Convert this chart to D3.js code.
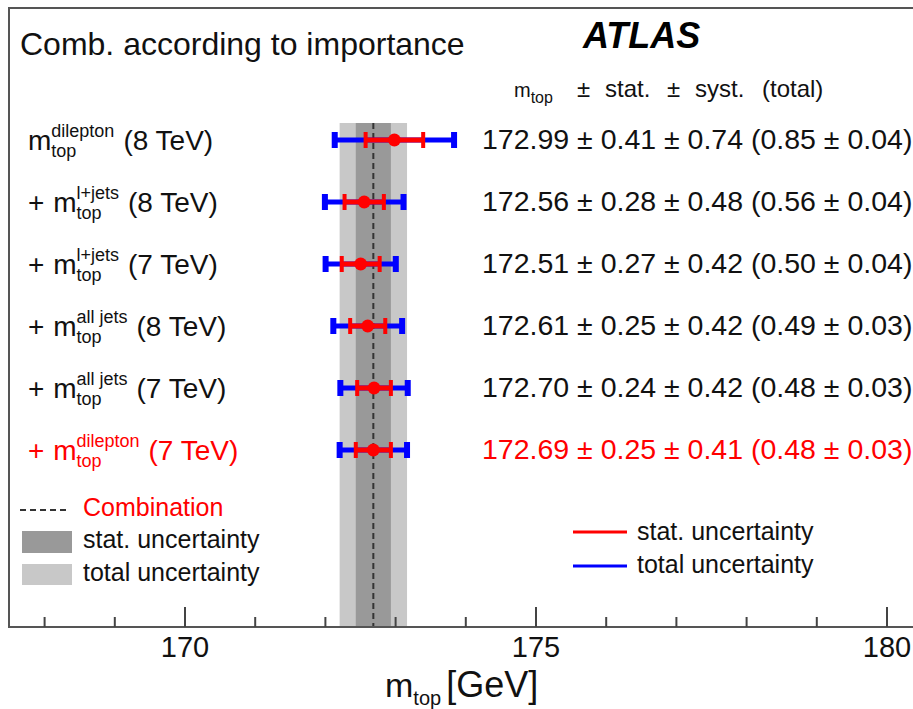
<!DOCTYPE html>
<html>
<head>
<meta charset="utf-8">
<script src="https://cdn.jsdelivr.net/npm/d3@7"></script>
<style>
  html, body { margin: 0; padding: 0; background: #fff; }
  svg { display: block; }
  text { font-family: "Liberation Sans", Arial, Helvetica, sans-serif; }
</style>
</head>
<body>
<svg id="chart" width="913" height="709"></svg>
<script>
// Measurements, added one at a time in order of importance
const channels  = ["dilepton", "l+jets", "l+jets", "all jets", "all jets", "dilepton"];
const energies  = ["8 TeV", "8 TeV", "7 TeV", "8 TeV", "7 TeV", "7 TeV"];
const mtop      = [172.99, 172.56, 172.51, 172.61, 172.70, 172.69];
const statUnc   = [0.41, 0.28, 0.27, 0.25, 0.24, 0.25];
const systUnc   = [0.74, 0.48, 0.42, 0.42, 0.42, 0.41];
const totalUnc  = [0.85, 0.56, 0.50, 0.49, 0.48, 0.48];
const totalUncErr = [0.04, 0.04, 0.04, 0.03, 0.03, 0.03];

// Final combination (last step)
const combValue = 172.69;
const combStat  = 0.25;
const combTotal = 0.48;

// Axis
const xDomain     = [167.5, 181];
const majorTicks  = [170, 175, 180];
const minorTicks  = [168, 169, 171, 172, 173, 174, 176, 177, 178, 179];

const svg = d3.select("#chart");
const W = 913, H = 709;
const frame = { left: 9, top: 8, bottom: 627 };
const FONT = '"Liberation Sans", Arial, Helvetica, sans-serif';

const x = d3.scaleLinear().domain(xDomain).range([frame.left, frame.left + 70.2 * (xDomain[1] - xDomain[0])]);
const rows = d3.range(mtop.length);
const y = d3.scalePoint().domain(rows).range([140, 450]);
const fmt = d3.format(".2f");

svg.append("rect").attr("width", W).attr("height", H).attr("fill", "#fff");

// Combination bands
const bandTop = 123;
svg.append("rect")
  .attr("x", x(combValue - combTotal)).attr("y", bandTop)
  .attr("width", x(combValue + combTotal) - x(combValue - combTotal))
  .attr("height", frame.bottom - bandTop)
  .attr("fill", "#c8c8c8");
svg.append("rect")
  .attr("x", x(combValue - combStat)).attr("y", bandTop)
  .attr("width", x(combValue + combStat) - x(combValue - combStat))
  .attr("height", frame.bottom - bandTop)
  .attr("fill", "#999999");
svg.append("line")
  .attr("x1", x(combValue)).attr("x2", x(combValue))
  .attr("y1", bandTop).attr("y2", frame.bottom)
  .attr("stroke", "#333").attr("stroke-width", 2).attr("stroke-dasharray", "6,4");

// Frame
const right = x(xDomain[1]);
svg.append("path")
  .attr("d", `M${right},${frame.top}H${frame.left}V${frame.bottom}H${right}`)
  .attr("fill", "none").attr("stroke", "#555").attr("stroke-width", 2);

// Axis ticks pointing into the frame
const axisMajor = d3.axisBottom(x).tickValues(majorTicks).tickSize(-20).tickPadding(9).tickFormat(d3.format("d"));
const gMaj = svg.append("g").attr("transform", `translate(0,${frame.bottom})`).call(axisMajor);
gMaj.select(".domain").remove();
gMaj.selectAll(".tick line").attr("stroke", "#444").attr("stroke-width", 2);
gMaj.selectAll(".tick text").attr("font-size", 29).attr("font-family", FONT).attr("fill", "#111");

const axisMinor = d3.axisBottom(x).tickValues(minorTicks).tickSize(-10).tickFormat("");
const gMin = svg.append("g").attr("transform", `translate(0,${frame.bottom})`).call(axisMinor);
gMin.select(".domain").remove();
gMin.selectAll(".tick line").attr("stroke", "#444").attr("stroke-width", 2);

// Axis title m_top [GeV]
const axT = svg.append("g").attr("fill", "#111");
const mAx = axT.append("text").attr("x", 385).attr("y", 697).attr("font-size", 34).text("m");
const mAxW = mAx.node().getComputedTextLength();
const subAx = axT.append("text").attr("x", 385 + mAxW).attr("y", 705).attr("font-size", 20).text("top");
const subAxW = subAx.node().getComputedTextLength();
axT.append("text").attr("x", 385 + mAxW + subAxW + 5).attr("y", 697).attr("font-size", 36).text("[GeV]");

// Error bars
const bars = svg.append("g").selectAll("g").data(rows).join("g")
  .attr("transform", i => `translate(0,${y(i)})`);

function errorBar(sel, lo, hi, color, capW) {
  sel.append("line")
    .attr("x1", i => x(mtop[i] - lo(i))).attr("x2", i => x(mtop[i] + hi(i)))
    .attr("y1", 0).attr("y2", 0)
    .attr("stroke", color).attr("stroke-width", 5);
  sel.append("rect")
    .attr("x", i => x(mtop[i] - lo(i)) - capW / 2).attr("y", -8)
    .attr("width", capW).attr("height", 16).attr("fill", color);
  sel.append("rect")
    .attr("x", i => x(mtop[i] + hi(i)) - capW / 2).attr("y", -8)
    .attr("width", capW).attr("height", 16).attr("fill", color);
}
errorBar(bars, i => totalUnc[i], i => totalUnc[i], "#0000ff", 6);
errorBar(bars, i => statUnc[i], i => statUnc[i], "#ff0000", 4);
bars.append("circle").attr("cx", i => x(mtop[i])).attr("cy", 0).attr("r", 6.5).attr("fill", "#ff0000");

// Row labels on the left
const rowColor = i => (i === rows.length - 1 ? "#ff0000" : "#111");
rows.forEach(i => {
  const g = svg.append("g").attr("fill", rowColor(i));
  const base = y(i) + 10;
  let cx = 28;
  if (i > 0) {
    const p = g.append("text").attr("x", cx).attr("y", base).attr("font-size", 28)
      .attr("xml:space", "preserve").text("+ ");
    cx += p.node().getComputedTextLength() + 1;
  }
  const m = g.append("text").attr("x", cx).attr("y", base).attr("font-size", 28).text("m");
  cx += m.node().getComputedTextLength();
  const sup = g.append("text").attr("x", cx).attr("y", base - 13).attr("font-size", 18).text(channels[i]);
  const sub = g.append("text").attr("x", cx).attr("y", base + 7).attr("font-size", 18).text("top");
  cx += Math.max(sup.node().getComputedTextLength(), sub.node().getComputedTextLength()) + 9;
  g.append("text").attr("x", cx).attr("y", base).attr("font-size", 28).text(`(${energies[i]})`);
});

// Values on the right
svg.append("g").selectAll("text").data(rows).join("text")
  .attr("x", 482).attr("y", i => y(i) + 9)
  .attr("font-size", 28.5).attr("fill", rowColor)
  .attr("xml:space", "preserve")
  .text(i => `${fmt(mtop[i])} \u00b1 ${fmt(statUnc[i])} \u00b1 ${fmt(systUnc[i])} (${fmt(totalUnc[i])} \u00b1 ${fmt(totalUncErr[i])})`);

// Column header
const hd = svg.append("g").attr("fill", "#111");
const hm = hd.append("text").attr("x", 514).attr("y", 97).attr("font-size", 20).text("m");
hd.append("text").attr("x", 514 + hm.node().getComputedTextLength()).attr("y", 103).attr("font-size", 16).text("top");
hd.append("text").attr("x", 577).attr("y", 97).attr("font-size", 24).text("\u00b1");
hd.append("text").attr("x", 605).attr("y", 97).attr("font-size", 24).text("stat.");
hd.append("text").attr("x", 667).attr("y", 97).attr("font-size", 24).text("\u00b1");
hd.append("text").attr("x", 695).attr("y", 97).attr("font-size", 24).text("syst.");
hd.append("text").attr("x", 762).attr("y", 97).attr("font-size", 24).text("(total)");

// Titles
svg.append("text").attr("x", 20).attr("y", 55).attr("font-size", 32).attr("fill", "#111")
  .text("Comb. according to importance");
svg.append("text").attr("x", 583).attr("y", 48).attr("font-size", 36)
  .attr("font-weight", "bold").attr("font-style", "italic").attr("fill", "#000")
  .text("ATLAS");

// Legend: combination bands
const lg = svg.append("g");
lg.append("line").attr("x1", 20).attr("x2", 68).attr("y1", 510).attr("y2", 510)
  .attr("stroke", "#333").attr("stroke-width", 2).attr("stroke-dasharray", "6,4");
lg.append("text").attr("x", 83).attr("y", 516).attr("font-size", 25).attr("fill", "#ff0000").text("Combination");
lg.append("rect").attr("x", 22).attr("y", 531).attr("width", 50).attr("height", 22).attr("fill", "#999999");
lg.append("text").attr("x", 83).attr("y", 548).attr("font-size", 25).attr("fill", "#111").text("stat. uncertainty");
lg.append("rect").attr("x", 22).attr("y", 564).attr("width", 50).attr("height", 21).attr("fill", "#c8c8c8");
lg.append("text").attr("x", 83).attr("y", 581).attr("font-size", 25).attr("fill", "#111").text("total uncertainty");

// Legend: error bars
const lr = svg.append("g");
lr.append("line").attr("x1", 573).attr("x2", 627).attr("y1", 532).attr("y2", 532)
  .attr("stroke", "#ff0000").attr("stroke-width", 3);
lr.append("text").attr("x", 637).attr("y", 540).attr("font-size", 25).attr("fill", "#111").text("stat. uncertainty");
lr.append("line").attr("x1", 573).attr("x2", 627).attr("y1", 566).attr("y2", 566)
  .attr("stroke", "#0000ff").attr("stroke-width", 3);
lr.append("text").attr("x", 637).attr("y", 573).attr("font-size", 25).attr("fill", "#111").text("total uncertainty");
</script>
</body>
</html>
